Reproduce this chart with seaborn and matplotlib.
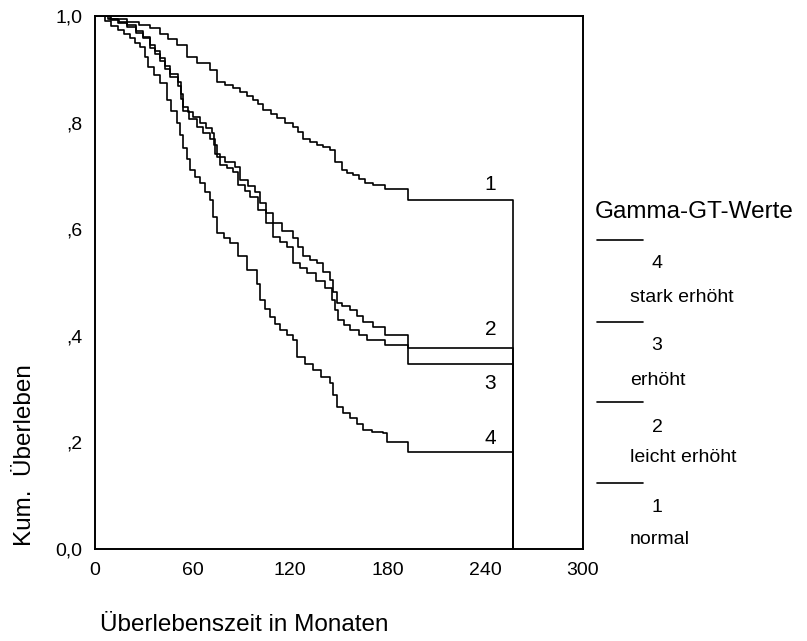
import numpy as np
import pandas as pd
import matplotlib
matplotlib.use("Agg")
import matplotlib.pyplot as plt
from matplotlib.lines import Line2D
import seaborn as sns

# ---- data ----
groups = ["1", "2", "3", "4"]
group_names = ["normal", "leicht erhöht", "erhöht", "stark erhöht"]

t1 = [0, 9, 19.5, 27, 33.8, 40, 45, 50.2, 56.4, 63, 70.7, 74.8, 80, 85, 89, 93.3, 97.3, 100.5, 103.5,
      108, 111.7, 117, 121.9, 125, 128, 132, 136.3, 140, 144.5, 147.5, 151.7, 155, 158.8, 162, 166, 171,
      178.3, 192.6, 257]
s1 = [1.0, 0.995, 0.989, 0.983, 0.977, 0.967, 0.957, 0.946, 0.924, 0.912, 0.899, 0.877, 0.870, 0.864,
      0.857, 0.849, 0.842, 0.834, 0.824, 0.816, 0.808, 0.800, 0.792, 0.782, 0.770, 0.764, 0.758, 0.754,
      0.749, 0.727, 0.711, 0.706, 0.702, 0.694, 0.687, 0.683, 0.675, 0.655, 0.0]

t2 = [0, 10, 15, 19.5, 25, 29.7, 33.8, 37, 40, 43, 46.1, 51.2, 52.8, 54.3, 57, 60.4, 64.6, 68, 71.7,
      73.2, 74.8, 80, 86.1, 89.1, 94, 98.4, 101.4, 105, 109.6, 115, 121.9, 125, 128, 132, 136.3, 140,
      144.5, 146.5, 148.6, 152, 156.8, 161, 165, 171, 178.3, 192.6, 257]
s2 = [1.0, 0.993, 0.988, 0.983, 0.972, 0.961, 0.945, 0.934, 0.922, 0.907, 0.892, 0.876, 0.853, 0.830,
      0.820, 0.811, 0.799, 0.790, 0.780, 0.758, 0.736, 0.727, 0.717, 0.692, 0.681, 0.670, 0.649, 0.630,
      0.611, 0.597, 0.583, 0.566, 0.549, 0.543, 0.536, 0.520, 0.505, 0.483, 0.461, 0.455, 0.448, 0.437,
      0.426, 0.417, 0.401, 0.377, 0.0]

t3 = [0, 8, 14, 19.5, 25, 29.7, 33.8, 37, 40, 43, 46.1, 51.2, 52.8, 54.3, 58, 62.5, 66.5, 70.7, 73.8,
      76.8, 81, 85, 88.1, 92, 95.3, 100.4, 105, 109.6, 114, 117.9, 121.9, 126, 130.1, 136, 141.4, 145.5,
      147.5, 149.6, 153, 156.8, 162, 167, 178.3, 192.6, 257]
s3 = [1.0, 0.994, 0.987, 0.980, 0.969, 0.958, 0.940, 0.928, 0.916, 0.901, 0.886, 0.868, 0.844, 0.821,
      0.806, 0.792, 0.781, 0.770, 0.742, 0.720, 0.714, 0.708, 0.683, 0.672, 0.661, 0.636, 0.611, 0.586,
      0.576, 0.567, 0.536, 0.527, 0.517, 0.503, 0.489, 0.467, 0.448, 0.430, 0.421, 0.411, 0.401, 0.392,
      0.383, 0.347, 0.0]

t4 = [0, 6, 10, 14.3, 18, 21.5, 24.5, 27.7, 30.5, 32.8, 36.5, 40, 44, 47, 50.2, 52.3, 54.3, 56.4, 58.4,
      61.5, 64.6, 67.6, 70.7, 72.7, 74.8, 79, 83, 88.1, 93.3, 99.4, 101.4, 104.5, 107.6, 110.6, 113.7,
      117.8, 121.9, 124, 129, 134.2, 139, 144.5, 146.5, 148.6, 152.7, 156.8, 161, 165, 170, 177.2, 179.3,
      192.6, 257]
s4 = [1.0, 0.99, 0.982, 0.974, 0.966, 0.958, 0.950, 0.942, 0.924, 0.905, 0.890, 0.874, 0.842, 0.821,
      0.800, 0.776, 0.752, 0.731, 0.711, 0.698, 0.686, 0.670, 0.655, 0.623, 0.592, 0.583, 0.574, 0.549,
      0.523, 0.498, 0.467, 0.451, 0.436, 0.423, 0.411, 0.401, 0.392, 0.361, 0.348, 0.336, 0.323, 0.311,
      0.289, 0.267, 0.256, 0.245, 0.234, 0.223, 0.220, 0.217, 0.201, 0.182, 0.0]

curve_label_pos = {"1": 0.683, "2": 0.411, "3": 0.311, "4": 0.208}
label_time = 243

x_ticks = [0, 60, 120, 180, 240, 300]
y_ticks = [0.0, 0.2, 0.4, 0.6, 0.8, 1.0]
y_tick_labels = ["0,0", ",2", ",4", ",6", ",8", "1,0"]

# ---- build long table ----
frames = []
for g, t, s in zip(groups, [t1, t2, t3, t4], [s1, s2, s3, s4]):
    frames.append(pd.DataFrame({"time": t, "surv": s, "group": g, "order": range(len(t))}))
df = pd.concat(frames, ignore_index=True)

sns.set_style("white")
plt.rcParams["font.family"] = ["Liberation Sans", "DejaVu Sans"]

W, H = 807, 641
fig = plt.figure(figsize=(W / 100, H / 100), dpi=100)
ax = fig.add_axes([95 / W, 1 - 549 / H, (583 - 95) / W, (549 - 16) / H])

sns.lineplot(data=df, x="time", y="surv", hue="group", units="group", estimator=None,
             sort=False, palette=["black"] * 4, drawstyle="steps-post", linewidth=1.2,
             legend=False, ax=ax)

ax.set_xlim(0, 300)
ax.set_ylim(0, 1)
ax.set_xticks(x_ticks)
ax.set_xticklabels([str(v) for v in x_ticks])
ax.set_yticks(y_ticks)
ax.set_yticklabels(y_tick_labels)
ax.tick_params(direction="out", length=2.5, width=2.5, labelsize=14, color="black",
               labelcolor="black")
ax.tick_params(axis="x", pad=7)
ax.tick_params(axis="y", pad=6.5)
ax.set_xlabel("")
ax.set_ylabel("")
for sp in ax.spines.values():
    sp.set_visible(True)
    sp.set_color("black")
    sp.set_linewidth(1.4)

for g in groups:
    ax.text(label_time, curve_label_pos[g], g, ha="center", va="center", fontsize=15, color="black")

fig.text(25 / W, 1 - 455 / H, "Kum.  Überleben", rotation=90, ha="center", va="center",
         fontsize=17.5, color="black")
fig.text(100 / W, 1 - 625 / H, "Überlebenszeit in Monaten", ha="left", va="center",
         fontsize=17.5, color="black")

# legend (SPSS style)
fig.text(595 / W, 1 - 212 / H, "Gamma-GT-Werte", ha="left", va="center", fontsize=17.5,
         color="black")
line_y = [240, 322, 402, 483]
num_y = [263, 345, 427, 507]
name_y = [298, 380, 458, 540]
for i, (g, name) in enumerate(zip(groups[::-1], group_names[::-1])):
    fig.add_artist(Line2D([597 / W, 643 / W], [1 - line_y[i] / H] * 2, transform=fig.transFigure,
                          color="black", linewidth=1.2))
    fig.text(657 / W, 1 - num_y[i] / H, g, ha="center", va="center", fontsize=14, color="black")
    fig.text(630 / W, 1 - name_y[i] / H, name, ha="left", va="center", fontsize=14, color="black")

fig.savefig("out.png", dpi=100)
